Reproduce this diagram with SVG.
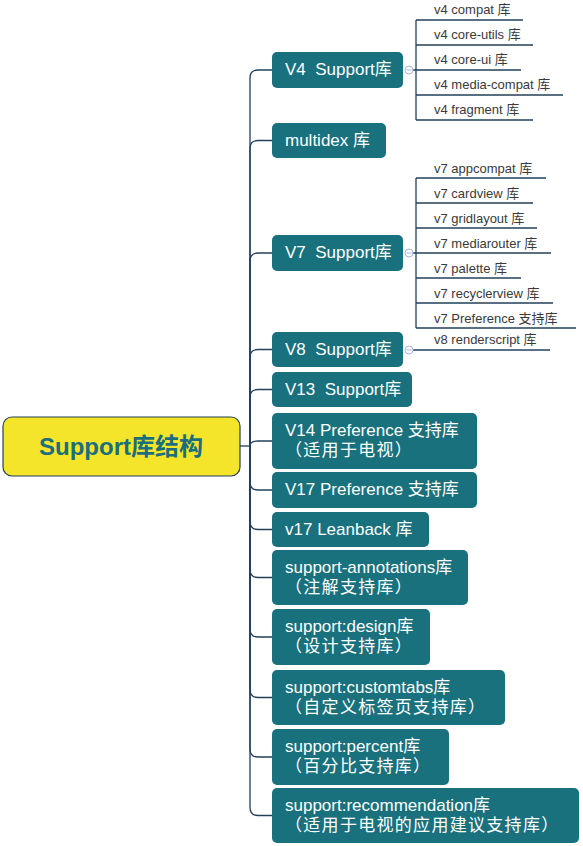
<svg xmlns="http://www.w3.org/2000/svg" width="583" height="846" viewBox="0 0 583 846">
<style>
.n{fill:#18717d;}
.t{font-family:"Liberation Sans","Noto Sans CJK SC",sans-serif;font-size:17px;fill:#ffffff;}
.z{letter-spacing:1.3px;}
.c{font-family:"Liberation Sans","Noto Sans CJK SC",sans-serif;font-size:13px;fill:#3a3a3a;}
.l{fill:none;stroke:#23405a;stroke-width:1.3;}
.k{fill:#ffffff;stroke:#a9b3e6;stroke-width:1;}
</style>
<rect width="583" height="846" fill="#ffffff"/>
<g id="connectors">
<path class="l" d="M240,446 H250"/>
<path class="l" d="M250,446 V78 Q250,70 258,70 H272"/>
<path class="l" d="M250,446 V148.5 Q250,140.5 258,140.5 H272"/>
<path class="l" d="M250,446 V261 Q250,253 258,253 H272"/>
<path class="l" d="M250,446 V357.5 Q250,349.5 258,349.5 H272"/>
<path class="l" d="M250,446 V397.5 Q250,389.5 258,389.5 H272"/>
<path class="l" d="M250,446 Q250,441 258,441 H272"/>
<path class="l" d="M250,446 V482 Q250,490 258,490 H272"/>
<path class="l" d="M250,446 V521.5 Q250,529.5 258,529.5 H272"/>
<path class="l" d="M250,446 V569.5 Q250,577.5 258,577.5 H272"/>
<path class="l" d="M250,446 V629 Q250,637 258,637 H272"/>
<path class="l" d="M250,446 V689.5 Q250,697.5 258,697.5 H272"/>
<path class="l" d="M250,446 V749 Q250,757 258,757 H272"/>
<path class="l" d="M250,446 V807.5 Q250,815.5 258,815.5 H272"/>
<!-- V4 children -->
<path class="l" d="M413,70 H416 M416,20 V120 M416,20 H523 M416,45 H533 M416,70 H521 M416,95 H563 M416,120 H533"/>
<!-- V7 children -->
<path class="l" d="M413,253 H416 M416,178 V328 M416,178 H546 M416,203 H533 M416,228 H537 M416,253 H551 M416,278 H521 M416,303 H553 M416,328 H576"/>
<!-- V8 child -->
<path class="l" d="M413,350 H550"/>
<circle class="k" cx="409" cy="70" r="4"/><path d="M406.5,70 H411.5" stroke="#a9b3e6" stroke-width="1"/>
<circle class="k" cx="409" cy="253" r="4"/><path d="M406.5,253 H411.5" stroke="#a9b3e6" stroke-width="1"/>
<circle class="k" cx="409" cy="350" r="4"/><path d="M406.5,350 H411.5" stroke="#a9b3e6" stroke-width="1"/>
</g>
<g id="root">
<rect x="3" y="417" width="237" height="59" rx="9" fill="#f5e52a" stroke="#23405a" stroke-width="1.2"/>
<text x="121" y="455" text-anchor="middle" font-family="Liberation Sans,Noto Sans CJK SC,sans-serif" font-size="24" font-weight="bold" fill="#1a6e7e">Support库结构</text>
</g>
<g id="v4">
<rect class="n" x="272" y="52" width="131" height="36" rx="5"/>
<text class="t" x="285" y="75" xml:space="preserve">V4  Support库</text>
</g>
<g id="v4-children">
<text class="c" x="434" y="14">v4 compat 库</text>
<text class="c" x="434" y="39">v4 core-utils 库</text>
<text class="c" x="434" y="64">v4 core-ui 库</text>
<text class="c" x="434" y="89">v4 media-compat 库</text>
<text class="c" x="434" y="114">v4 fragment 库</text>
</g>
<g id="multidex">
<rect class="n" x="272" y="123" width="114" height="35" rx="5"/>
<text class="t" x="285" y="146">multidex 库</text>
</g>
<g id="v7">
<rect class="n" x="272" y="235" width="131" height="36" rx="5"/>
<text class="t" x="285" y="258" xml:space="preserve">V7  Support库</text>
</g>
<g id="v7-children">
<text class="c" x="434" y="173">v7 appcompat 库</text>
<text class="c" x="434" y="198">v7 cardview 库</text>
<text class="c" x="434" y="223">v7 gridlayout 库</text>
<text class="c" x="434" y="248">v7 mediarouter 库</text>
<text class="c" x="434" y="273">v7 palette 库</text>
<text class="c" x="434" y="298">v7 recyclerview 库</text>
<text class="c" x="434" y="323">v7 Preference 支持库</text>
</g>
<g id="v8">
<rect class="n" x="272" y="332" width="131" height="35" rx="5"/>
<text class="t" x="285" y="355" xml:space="preserve">V8  Support库</text>
</g>
<g id="v8-children">
<text class="c" x="434" y="344">v8 renderscript 库</text>
</g>
<g id="v13">
<rect class="n" x="272" y="372" width="140" height="35" rx="5"/>
<text class="t" x="285" y="395" xml:space="preserve">V13  Support库</text>
</g>
<g id="v14">
<rect class="n" x="272" y="413" width="205" height="56" rx="5"/>
<text class="t" x="285" y="436">V14 Preference 支持库</text>
<text class="t z" x="285" y="456">（适用于电视）</text>
</g>
<g id="v17">
<rect class="n" x="272" y="472" width="205" height="36" rx="5"/>
<text class="t" x="285" y="495">V17 Preference 支持库</text>
</g>
<g id="v17-leanback">
<rect class="n" x="272" y="512" width="157" height="35" rx="5"/>
<text class="t" x="285" y="535">v17 Leanback 库</text>
</g>
<g id="annotations">
<rect class="n" x="272" y="550" width="196" height="55" rx="5"/>
<text class="t" x="285" y="573">support-annotations库</text>
<text class="t z" x="285" y="593">（注解支持库）</text>
</g>
<g id="design">
<rect class="n" x="272" y="609" width="158" height="56" rx="5"/>
<text class="t" x="285" y="632">support:design库</text>
<text class="t z" x="285" y="652">（设计支持库）</text>
</g>
<g id="customtabs">
<rect class="n" x="272" y="670" width="233" height="55" rx="5"/>
<text class="t" x="285" y="693">support:customtabs库</text>
<text class="t z" x="285" y="713">（自定义标签页支持库）</text>
</g>
<g id="percent">
<rect class="n" x="272" y="729" width="177" height="56" rx="5"/>
<text class="t" x="285" y="752">support:percent库</text>
<text class="t z" x="285" y="772">（百分比支持库）</text>
</g>
<g id="recommendation">
<rect class="n" x="272" y="788" width="307" height="55" rx="5"/>
<text class="t" x="285" y="811">support:recommendation库</text>
<text class="t z" x="285" y="831">（适用于电视的应用建议支持库）</text>
</g>
</svg>
